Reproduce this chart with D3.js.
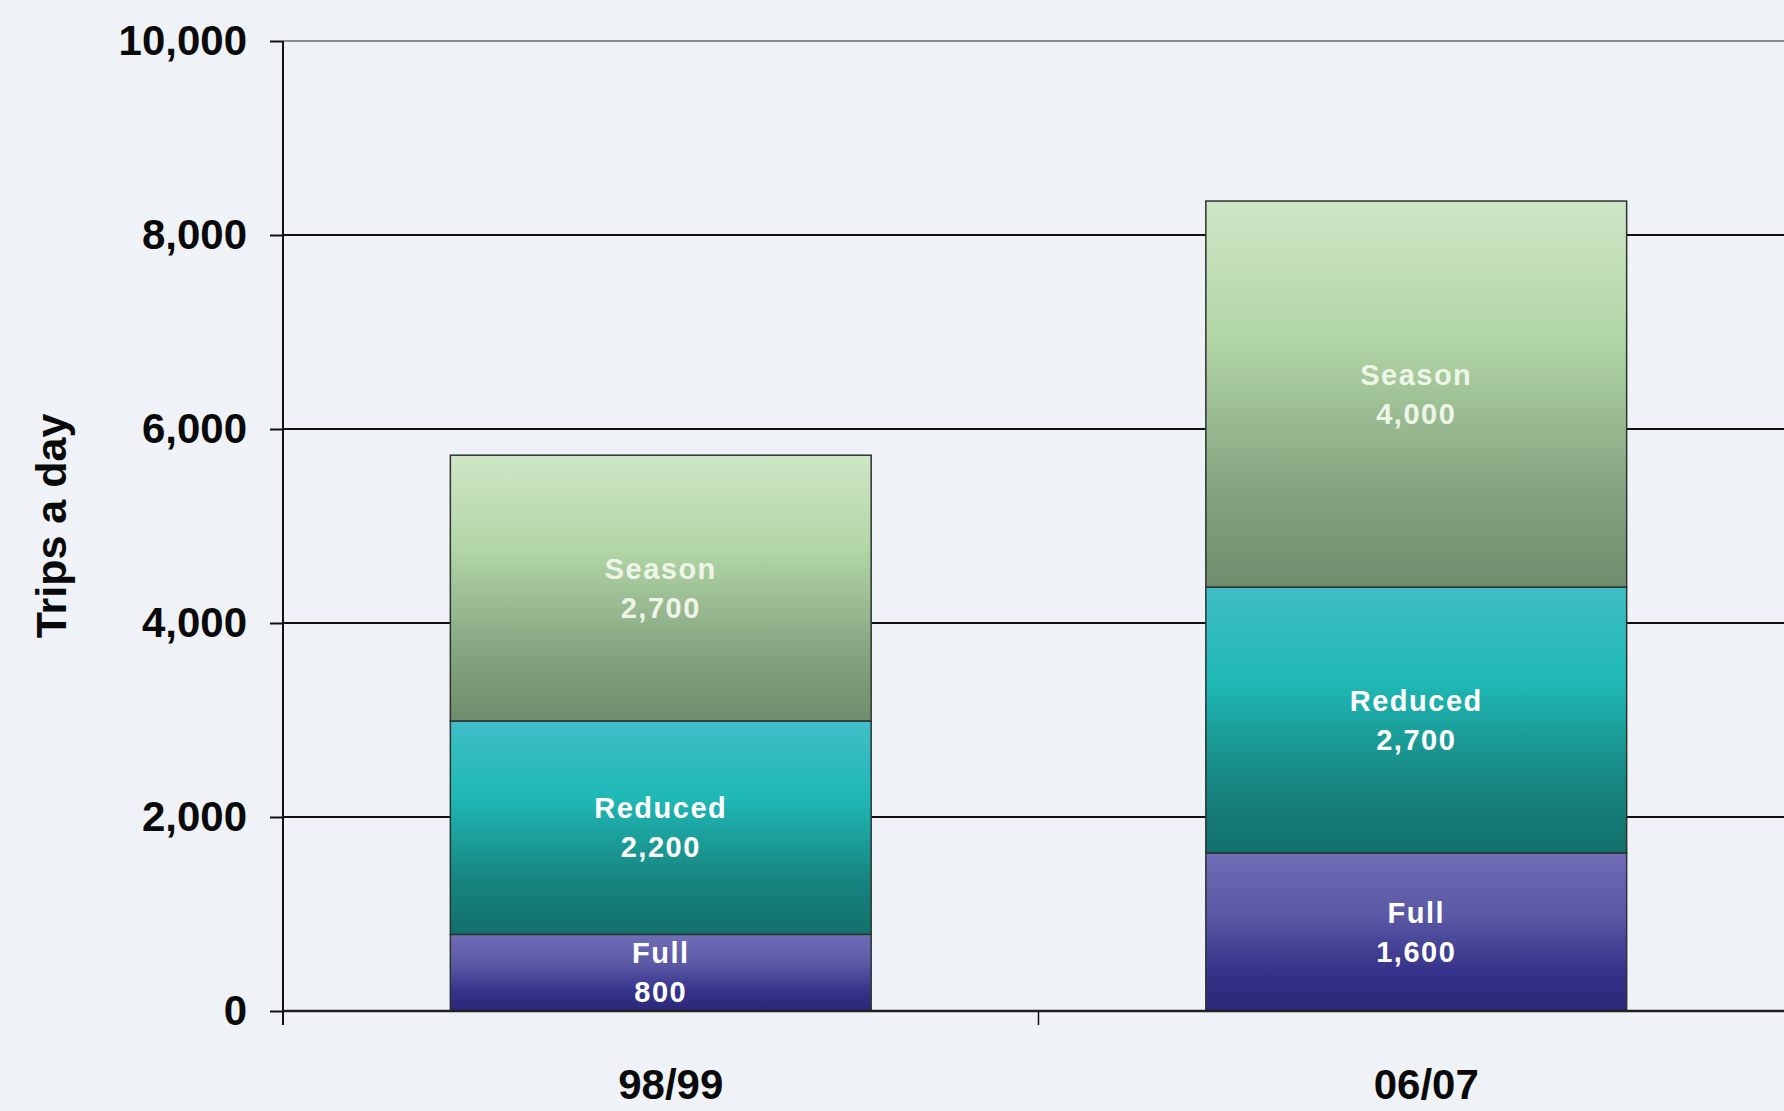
<!DOCTYPE html>
<html>
<head>
<meta charset="utf-8">
<script src="https://cdn.jsdelivr.net/npm/d3@7"></script>
<style>
  html, body { margin: 0; padding: 0; background: #eff3f7; }
  svg { display: block; }
  text { font-family: "Liberation Sans", Arial, sans-serif; }
</style>
</head>
<body>
<svg id="chart" width="1784" height="1111"></svg>
<script>
// ---- data (bar heights; labels show them rounded to 100) ----
const categories = ["98/99", "06/07"];
const seriesKeys = ["Full", "Reduced", "Season"];
const fullValues = [790, 1630];
const reducedValues = [2200, 2740];
const seasonValues = [2740, 3980];
const yTicks = [0, 2000, 4000, 6000, 8000, 10000];
const yTitle = "Trips a day";

(function () {
const rows = categories.map((c, i) => ({
  category: c,
  Full: fullValues[i],
  Reduced: reducedValues[i],
  Season: seasonValues[i]
}));

const W = 1784, H = 1111;
const plotLeft = 283, plotTop = 41, plotBottom = 1011, rightRange = 1794;

const svg = d3.select("#chart");

svg.append("rect").attr("width", W).attr("height", H).attr("fill", "#eff3f7");

const defs = svg.append("defs");
const grads = {
  Season: [["0%", "#cfe6c6"], ["35%", "#b2d6a6"], ["75%", "#84a380"], ["100%", "#6f8d6c"]],
  Reduced: [["0%", "#40bec7"], ["35%", "#1fb9b6"], ["75%", "#17847f"], ["100%", "#12706a"]],
  Full: [["0%", "#6f6db6"], ["40%", "#5a58a4"], ["75%", "#35328a"], ["100%", "#2a2778"]]
};
Object.entries(grads).forEach(([k, stops]) => {
  const g = defs.append("linearGradient").attr("id", "g-" + k)
    .attr("x1", 0).attr("y1", 0).attr("x2", 0).attr("y2", 1);
  stops.forEach(([o, c]) => g.append("stop").attr("offset", o).attr("stop-color", c));
});

const x = d3.scaleBand().domain(categories).range([plotLeft, rightRange])
  .paddingInner(0.443).paddingOuter(0.2215);
const y = d3.scaleLinear().domain([0, 10000]).range([plotBottom, plotTop]);
const fmt = v => d3.format(",")(Math.round(v / 100) * 100);

// gridlines
svg.append("g").selectAll("line").data(yTicks.filter(t => t > 0)).join("line")
  .attr("x1", plotLeft).attr("x2", W)
  .attr("y1", d => y(d)).attr("y2", d => y(d))
  .attr("stroke", d => d === 10000 ? "#8a8c8e" : "#111")
  .attr("stroke-width", 2);

// stacked bars
const stack = d3.stack().keys(seriesKeys)(rows);
const layers = svg.append("g").selectAll("g").data(stack).join("g");
layers.selectAll("rect").data(d => d.map(p => ({ key: d.key, p }))).join("rect")
  .attr("x", d => x(d.p.data.category))
  .attr("width", x.bandwidth())
  .attr("y", d => y(d.p[1]))
  .attr("height", d => y(d.p[0]) - y(d.p[1]))
  .attr("fill", d => `url(#g-${d.key})`)
  .attr("stroke", "#2b3330")
  .attr("stroke-width", 1.5);

// bar labels
const lab = svg.append("g").selectAll("g").data(stack.flatMap(s => s.map(p => ({ key: s.key, p })))).join("g")
  .attr("transform", d => `translate(${x(d.p.data.category) + x.bandwidth() / 2},${(y(d.p[0]) + y(d.p[1])) / 2})`);
lab.append("text").attr("text-anchor", "middle").attr("y", -19.5).attr("dy", "0.35em")
  .attr("fill", d => d.key === "Season" ? "#eef5e8" : "#ffffff")
  .attr("font-size", 29).attr("font-weight", "bold").attr("letter-spacing", 1.5)
  .text(d => d.key);
lab.append("text").attr("text-anchor", "middle").attr("y", 19.5).attr("dy", "0.35em")
  .attr("fill", d => d.key === "Season" ? "#eef5e8" : "#ffffff")
  .attr("font-size", 29).attr("font-weight", "bold").attr("letter-spacing", 1.5)
  .text(d => fmt(d.p.data[d.key]));

// y axis
const yAxis = svg.append("g").attr("transform", `translate(${plotLeft},0)`)
  .call(d3.axisLeft(y).tickValues(yTicks).tickFormat(d3.format(",")).tickSize(13).tickPadding(23));
yAxis.select(".domain").attr("stroke", "#111").attr("stroke-width", 2)
  .attr("d", `M0,${plotTop}V${plotBottom + 14}`);
yAxis.selectAll(".tick line").attr("stroke", "#111").attr("stroke-width", 2);
yAxis.selectAll(".tick text").attr("font-size", 42).attr("font-weight", "bold")
  .attr("fill", "#0a0a0a").attr("font-family", "'Liberation Sans', Arial, sans-serif");

// x axis
const xAxis = svg.append("g").attr("transform", `translate(0,${plotBottom})`);
xAxis.append("line").attr("x1", plotLeft).attr("x2", W).attr("stroke", "#222").attr("stroke-width", 2.5);
const step = x.step();
const boundaries = [plotLeft, plotLeft + step];
xAxis.selectAll("line.tk").data(boundaries).join("line").attr("class", "tk")
  .attr("x1", d => d).attr("x2", d => d).attr("y1", 0).attr("y2", 14)
  .attr("stroke", "#111").attr("stroke-width", 1.5);
xAxis.selectAll("text").data(categories).join("text")
  .attr("x", d => x(d) + x.bandwidth() / 2 + 10)
  .attr("y", 88)
  .attr("text-anchor", "middle")
  .attr("font-size", 42).attr("font-weight", "bold").attr("fill", "#0a0a0a")
  .text(d => d);

// y title
svg.append("text")
  .attr("transform", `translate(66,526) rotate(-90)`)
  .attr("text-anchor", "middle")
  .attr("font-size", 43).attr("font-weight", "bold").attr("fill", "#0a0a0a")
  .text(yTitle);
})();
</script>
</body>
</html>
